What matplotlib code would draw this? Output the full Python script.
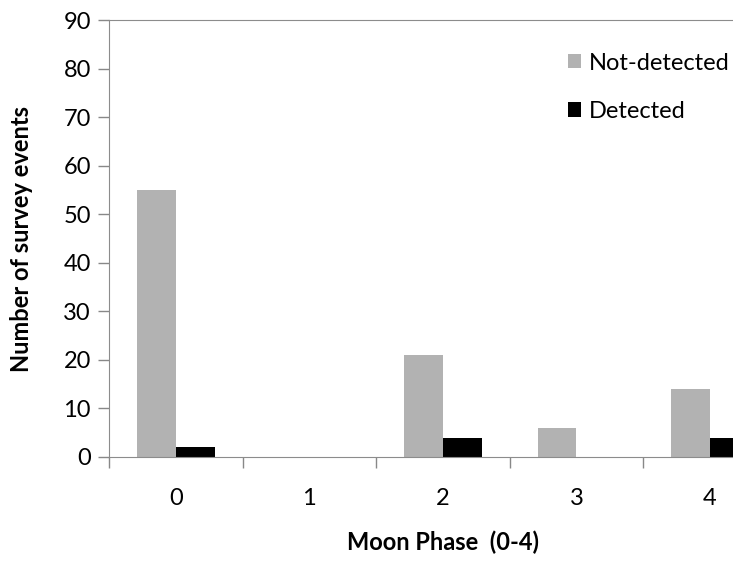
import matplotlib.pyplot as plt
import numpy as np

phases = ['0', '1', '2', '3', '4']
not_detected = [55, 0, 21, 6, 14]
detected = [2, 0, 4, 0, 4]

plt.rcParams['font.family'] = ['Lato', 'DejaVu Sans']

fig = plt.figure(figsize=(7.33, 5.63), dpi=100)
# axes runs past the right edge, the last group is cut off like in the original
ax = fig.add_axes([0.1487, 0.1883, 0.911, 0.7753])

x = np.arange(len(phases))
w = 0.29
ax.bar(x - w / 2, not_detected, w, color='#b2b2b2', label='Not-detected')
ax.bar(x + w / 2, detected, w, color='black', label='Detected')

ax.set_xlim(-0.5, 4.5)
ax.set_ylim(0, 90)
ax.set_yticks(range(0, 91, 10))
ax.set_xticks(x)
ax.set_xticklabels(phases)
ax.set_xticks(np.arange(-0.5, 4.6, 1), minor=True)
ax.tick_params(axis='x', which='major', length=0, pad=22, labelsize=17)
ax.tick_params(axis='x', which='minor', length=8, color='#888888', width=1)
ax.tick_params(axis='y', length=8, color='#888888', width=1, labelsize=17, pad=5)

for s in ['left', 'bottom', 'top']:
    ax.spines[s].set_color('#8c8c8c')
ax.spines['right'].set_visible(False)

ax.set_ylabel('Number of survey events', fontsize=17, fontweight='bold', labelpad=22)
ax.set_xlabel('Moon Phase  (0-4)', fontsize=17, fontweight='bold', labelpad=16)

ax.legend(loc='upper left', bbox_to_anchor=(0.655, 0.975), frameon=False, fontsize=17,
          handlelength=0.55, handleheight=0.55, handletextpad=0.35, labelspacing=1.15)

fig.savefig('out.png', dpi=100)
